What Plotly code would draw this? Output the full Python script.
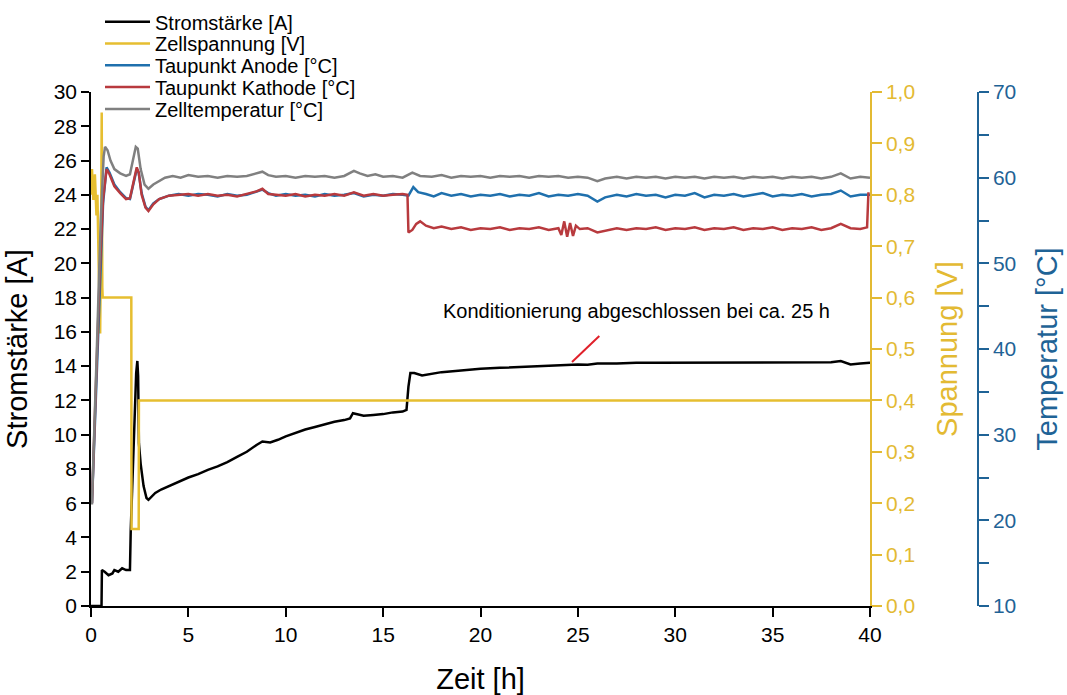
import plotly.graph_objects as go

FONT = "Liberation Sans, Arial, sans-serif"

# ---------------- data ----------------
# Stromstärke [A]  (time [h], current [A])
stromstaerke = [
    (0.0, 0.0), (0.54, 0.0), (0.56, 2.1), (0.7, 2.0), (0.9, 1.8), (1.1, 1.9), (1.2, 2.1),
    (1.4, 2.0), (1.6, 2.2), (1.8, 2.1), (2.0, 2.1), (2.04, 4.4), (2.15, 8.0), (2.25, 12.0),
    (2.32, 13.6), (2.38, 14.3), (2.42, 13.4), (2.46, 9.5), (2.55, 8.3), (2.7, 7.0),
    (2.85, 6.3), (2.95, 6.2), (3.1, 6.4), (3.3, 6.6), (3.6, 6.8), (4.0, 7.0), (4.5, 7.25),
    (5.0, 7.5), (5.5, 7.7), (6.0, 7.95), (6.5, 8.15), (7.0, 8.4), (7.5, 8.7), (8.0, 9.0),
    (8.5, 9.4), (8.8, 9.6), (9.2, 9.55), (9.6, 9.7), (10.0, 9.9), (10.5, 10.1), (11.0, 10.3),
    (11.5, 10.45), (12.0, 10.6), (12.5, 10.75), (13.0, 10.85), (13.3, 10.95), (13.45, 11.25),
    (13.7, 11.2), (14.0, 11.1), (14.5, 11.15), (15.0, 11.2), (15.5, 11.3), (16.0, 11.35),
    (16.2, 11.45), (16.3, 12.8), (16.4, 13.6), (16.6, 13.6), (17.0, 13.45), (17.5, 13.55),
    (18.0, 13.65), (19.0, 13.75), (20.0, 13.85), (21.0, 13.9), (22.0, 13.95), (23.0, 14.0),
    (24.0, 14.05), (25.0, 14.1), (25.5, 14.08), (26.0, 14.15), (27.0, 14.15), (28.0, 14.2),
    (29.0, 14.2), (30.0, 14.2), (31.0, 14.22), (32.0, 14.22), (33.0, 14.2), (34.0, 14.22),
    (35.0, 14.2), (36.0, 14.2), (37.0, 14.2), (38.0, 14.22), (38.5, 14.3), (39.0, 14.1),
    (39.5, 14.15), (40.0, 14.2),
]

# Zellspannung [V]
zellspannung = [
    (0.0, 0.80), (0.05, 0.85), (0.12, 0.79), (0.2, 0.84), (0.28, 0.76), (0.33, 0.80),
    (0.4, 0.65), (0.47, 0.53), (0.52, 0.75), (0.55, 0.96), (0.58, 0.62), (0.6, 0.60),
    (2.07, 0.60), (2.08, 0.15), (2.45, 0.15), (2.46, 0.40), (40.0, 0.40),
]

# Taupunkt Anode [°C]
taupunkt_anode = [
    (0.05, 22.0), (0.25, 35.0), (0.45, 48.0), (0.62, 57.0), (0.8, 61.2), (0.95, 60.6),
    (1.2, 59.2), (1.5, 58.3), (1.8, 57.6), (2.0, 57.5), (2.15, 59.0), (2.35, 61.0),
    (2.45, 60.6), (2.6, 58.2), (2.8, 56.6), (2.95, 56.2), (3.2, 57.0), (3.5, 57.5),
    (4.0, 57.9), (4.5, 58.1), (5.0, 57.9), (5.5, 58.1), (6.0, 58.0), (6.5, 57.8),
    (7.0, 58.1), (7.5, 57.9), (8.0, 58.0), (8.5, 58.4), (8.8, 58.6), (9.1, 58.2),
    (9.5, 57.9), (10.0, 58.1), (10.5, 57.9), (11.0, 58.0), (11.5, 57.8), (12.0, 58.1),
    (12.5, 57.9), (13.0, 58.0), (13.5, 58.2), (14.0, 57.8), (14.5, 58.0), (15.0, 57.9),
    (15.5, 58.1), (16.0, 58.0), (16.3, 57.9), (16.55, 58.9), (16.8, 58.3), (17.2, 58.1),
    (17.6, 57.8), (18.0, 58.2), (18.5, 57.9), (19.0, 58.1), (19.5, 57.8), (20.0, 58.0),
    (20.5, 57.9), (21.0, 58.1), (21.5, 57.8), (22.0, 58.0), (22.5, 57.9), (23.0, 58.2),
    (23.5, 57.8), (24.0, 58.0), (24.5, 57.9), (25.0, 58.1), (25.5, 57.9), (26.0, 57.2),
    (26.4, 57.7), (27.0, 58.0), (27.5, 57.8), (28.0, 58.1), (28.5, 57.9), (29.0, 58.0),
    (29.5, 57.7), (30.0, 58.0), (30.5, 57.9), (31.0, 58.2), (31.5, 57.7), (32.0, 58.0),
    (32.5, 57.9), (33.0, 58.1), (33.5, 57.8), (34.0, 58.0), (34.5, 58.2), (35.0, 57.8),
    (35.5, 58.0), (36.0, 57.9), (36.5, 58.1), (37.0, 57.8), (37.5, 58.0), (38.0, 58.1),
    (38.5, 58.5), (39.0, 57.8), (39.5, 58.0), (40.0, 58.0),
]

# Taupunkt Kathode [°C]
taupunkt_kathode = [
    (0.05, 22.0), (0.25, 36.0), (0.45, 49.0), (0.62, 57.5), (0.8, 61.0), (0.95, 60.4),
    (1.2, 59.0), (1.5, 58.2), (1.8, 57.5), (2.0, 57.6), (2.15, 59.2), (2.35, 61.2),
    (2.45, 60.6), (2.6, 58.0), (2.8, 56.5), (2.95, 56.1), (3.2, 56.9), (3.5, 57.5),
    (4.0, 57.9), (4.5, 58.0), (5.0, 58.1), (5.5, 57.9), (6.0, 58.1), (6.5, 57.9),
    (7.0, 58.0), (7.5, 57.8), (8.0, 58.1), (8.5, 58.4), (8.8, 58.7), (9.1, 58.1),
    (9.5, 58.0), (10.0, 57.9), (10.5, 58.1), (11.0, 57.8), (11.5, 58.0), (12.0, 57.9),
    (12.5, 58.1), (13.0, 57.9), (13.5, 58.3), (14.0, 57.9), (14.5, 58.1), (15.0, 57.9),
    (15.5, 58.0), (16.0, 58.1), (16.25, 58.0), (16.3, 53.6), (16.5, 53.9), (16.7, 54.6),
    (16.9, 54.9), (17.2, 54.4), (17.6, 54.1), (18.0, 54.3), (18.5, 54.0), (19.0, 54.2),
    (19.5, 53.9), (20.0, 54.1), (20.5, 54.0), (21.0, 54.2), (21.5, 53.9), (22.0, 54.1),
    (22.5, 54.0), (23.0, 54.2), (23.5, 53.9), (24.0, 54.1), (24.15, 53.3), (24.3, 54.9),
    (24.45, 53.1), (24.6, 54.7), (24.75, 53.2), (24.9, 54.4), (25.1, 54.0), (25.5, 54.1),
    (26.0, 53.6), (26.4, 53.8), (27.0, 54.1), (27.5, 53.9), (28.0, 54.1), (28.5, 54.0),
    (29.0, 54.2), (29.5, 53.9), (30.0, 54.1), (30.5, 54.0), (31.0, 54.2), (31.5, 53.9),
    (32.0, 54.1), (32.5, 54.0), (33.0, 54.2), (33.5, 53.9), (34.0, 54.1), (34.5, 54.0),
    (35.0, 54.2), (35.5, 53.9), (36.0, 54.1), (36.5, 54.0), (37.0, 54.2), (37.5, 53.9),
    (38.0, 54.1), (38.5, 54.6), (39.0, 54.1), (39.5, 54.0), (39.85, 54.2), (39.92, 58.3),
]

# Zelltemperatur [°C]
zelltemperatur = [
    (0.0, 22.0), (0.05, 22.0), (0.3, 40.0), (0.5, 55.0), (0.65, 62.5), (0.72, 63.6),
    (0.85, 63.2), (1.0, 62.0), (1.2, 61.0), (1.5, 60.5), (1.8, 60.2), (2.0, 60.4),
    (2.15, 62.0), (2.3, 63.6), (2.4, 63.4), (2.55, 61.0), (2.75, 59.2), (2.95, 58.7),
    (3.2, 59.2), (3.5, 59.6), (3.8, 60.0), (4.2, 60.2), (4.6, 60.0), (5.0, 60.3),
    (5.5, 60.1), (6.0, 60.2), (6.5, 60.0), (7.0, 60.2), (7.5, 60.1), (8.0, 60.2),
    (8.5, 60.5), (8.8, 60.7), (9.1, 60.3), (9.5, 60.1), (10.0, 60.2), (10.5, 60.0),
    (11.0, 60.2), (11.5, 60.1), (12.0, 60.2), (12.5, 60.0), (13.0, 60.2), (13.5, 60.8),
    (13.8, 60.5), (14.2, 60.2), (14.6, 60.4), (15.0, 60.1), (15.5, 60.2), (16.0, 60.0),
    (16.5, 60.6), (16.9, 60.2), (17.5, 60.1), (18.0, 60.3), (18.5, 60.0), (19.0, 60.2),
    (19.5, 60.1), (20.0, 60.2), (20.5, 60.0), (21.0, 60.2), (21.5, 60.1), (22.0, 60.2),
    (22.5, 60.0), (23.0, 60.2), (23.5, 60.1), (24.0, 60.2), (24.5, 60.0), (25.0, 60.1),
    (25.5, 60.0), (26.0, 59.6), (26.4, 59.9), (27.0, 60.1), (27.5, 59.9), (28.0, 60.1),
    (28.5, 60.0), (29.0, 60.1), (29.5, 59.9), (30.0, 60.1), (30.5, 60.0), (31.0, 60.1),
    (31.5, 59.9), (32.0, 60.1), (32.5, 60.0), (33.0, 60.1), (33.5, 59.9), (34.0, 60.1),
    (34.5, 60.0), (35.0, 60.1), (35.5, 59.9), (36.0, 60.1), (36.5, 60.0), (37.0, 60.1),
    (37.5, 59.9), (38.0, 60.1), (38.5, 60.5), (39.0, 59.9), (39.5, 60.1), (40.0, 60.0),
]

series_names = ["Stromstärke [A]", "Zellspannung [V]", "Taupunkt Anode [°C]",
                "Taupunkt Kathode [°C]", "Zelltemperatur [°C]"]

annotation_text = "Konditionierung abgeschlossen bei ca. 25 h"
annotation_pos = (28.0, 17.2)          # (Zeit, Stromstärke) of the label
pointer_line = ((24.7, 14.24), (26.1, 15.76))

# ---------------- styling ----------------
C_BLACK = "#000000"
C_GOLD = "#E6BE30"
C_GOLD_AX = "#E3BA33"
C_BLUE = "#1F70AD"
C_BLUE_AX = "#1F6396"
C_RED = "#B83A3E"
C_GRAY = "#808080"
LW = 2.5

W, H = 1067, 695
ML, MR, MT, MB = 91, 10, 92, 89
PW, PH = W - ML - MR, H - MT - MB
X_END = (870 - ML) / PW
Y3_POS = (978 - ML) / PW


def unzip(pairs):
    return [p[0] for p in pairs], [p[1] for p in pairs]


fig = go.Figure()
specs = [
    (stromstaerke, "y", C_BLACK),
    (zellspannung, "y2", C_GOLD),
    (taupunkt_anode, "y3", C_BLUE),
    (taupunkt_kathode, "y3", C_RED),
    (zelltemperatur, "y3", C_GRAY),
]
legend_ids = ["legend", "legend2", "legend3", "legend4", "legend5"]
for (pairs, yax, col), name, lg in zip(specs, series_names, legend_ids):
    xs, ys = unzip(pairs)
    fig.add_trace(go.Scatter(x=xs, y=ys, name=name, mode="lines", yaxis=yax,
                             line=dict(color=col, width=LW), legend=lg,
                             showlegend=True))

tickfont = dict(family=FONT, size=21, color="black")
titlefont = dict(family=FONT, size=29, color="black")

layout = dict(
    width=W, height=H,
    margin=dict(l=ML, r=MR, t=MT, b=MB, autoexpand=False),
    paper_bgcolor="white", plot_bgcolor="white",
    separators=",.",
    font=dict(family=FONT, size=20, color="black"),
    xaxis=dict(domain=[0, X_END], range=[0, 40], dtick=5, tick0=0,
               showgrid=False, zeroline=False, showline=True, linecolor="black",
               linewidth=1.5, ticks="outside", ticklen=9, tickwidth=1.5,
               tickcolor="black", tickfont=tickfont, automargin=False,
               title=dict(text="Zeit [h]", font=titlefont, standoff=29)),
    yaxis=dict(range=[0, 30], dtick=2, tick0=0, showgrid=False, zeroline=False,
               showline=True, linecolor="black", linewidth=1.5, ticks="outside",
               ticklen=8, tickwidth=1.5, tickcolor="black", tickfont=tickfont,
               automargin=False,
               title=dict(text="Stromstärke [A]", font=titlefont, standoff=18)),
    yaxis2=dict(overlaying="y", side="right", anchor="x", range=[0, 1], dtick=0.1,
                tick0=0, tickformat=".1f", showgrid=False, zeroline=False,
                showline=True, linecolor=C_GOLD_AX, linewidth=1.5, ticks="outside",
                ticklen=10, tickwidth=1.5, tickcolor=C_GOLD_AX,
                tickfont=dict(family=FONT, size=21, color=C_GOLD_AX),
                automargin=False,
                title=dict(text="Spannung [V]",
                           font=dict(family=FONT, size=29, color=C_GOLD_AX),
                           standoff=22)),
    yaxis3=dict(overlaying="y", side="right", anchor="free", position=Y3_POS,
                range=[10, 70], dtick=10, tick0=10, showgrid=False, zeroline=False,
                showline=True, linecolor=C_BLUE_AX, linewidth=1.5, ticks="outside",
                ticklen=10, tickwidth=1.5, tickcolor=C_BLUE_AX,
                minor=dict(dtick=5, tick0=10, ticks="outside", ticklen=10,
                           tickwidth=1.5, tickcolor=C_BLUE_AX, showgrid=False),
                tickfont=dict(family=FONT, size=21, color=C_BLUE_AX),
                automargin=False,
                title=dict(text="Temperatur [°C]",
                           font=dict(family=FONT, size=29, color=C_BLUE_AX),
                           standoff=20)),
    showlegend=True,
)

# one legend per row, to reproduce the tight row spacing of the original
row_px = [21.7, 43.5, 65.3, 87.1, 108.9]
for lg, py in zip(legend_ids, row_px):
    layout[lg] = dict(x=(100 - ML) / PW, y=1 + (MT - py) / PH, xanchor="left",
                      yanchor="middle", bgcolor="rgba(0,0,0,0)", borderwidth=0,
                      itemwidth=45, font=dict(family=FONT, size=20, color="black"))

fig.update_layout(**layout)

fig.add_annotation(x=annotation_pos[0], y=annotation_pos[1], xref="x", yref="y",
                   text=annotation_text, showarrow=False,
                   font=dict(family=FONT, size=20, color="black"))
fig.add_shape(type="line", xref="x", yref="y",
              x0=pointer_line[0][0], y0=pointer_line[0][1],
              x1=pointer_line[1][0], y1=pointer_line[1][1],
              line=dict(color="#E0202A", width=2))

fig.write_html("out.html")
